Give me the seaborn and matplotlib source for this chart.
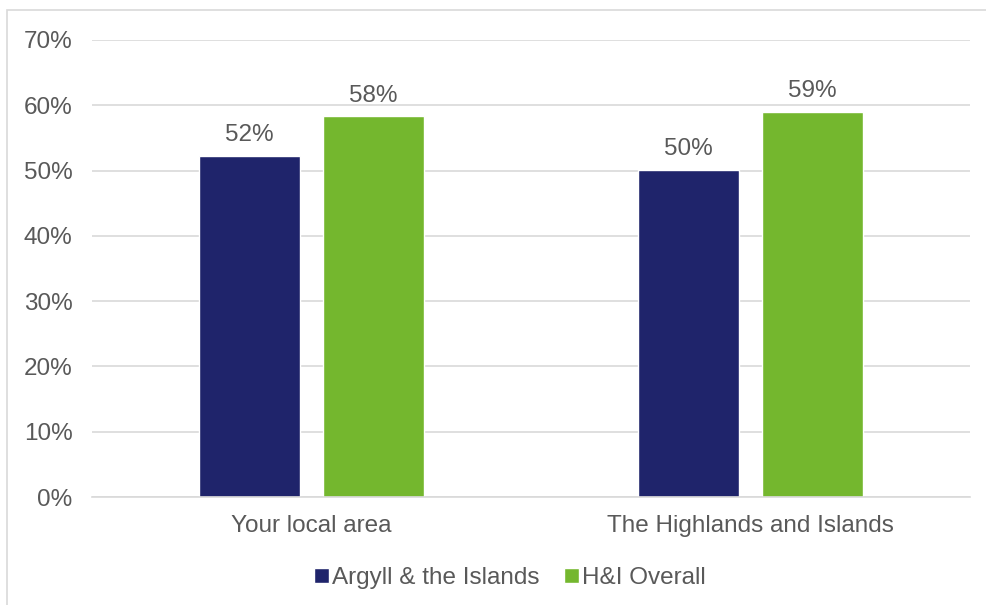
import matplotlib
matplotlib.use("Agg")
import matplotlib.pyplot as plt
import seaborn as sns
import pandas as pd
from matplotlib.patches import Rectangle

categories = ["Your local area", "The Highlands and Islands"]
series_names = ["Argyll & the Islands", "H&I Overall"]
argyll_values = [52.3, 50.1]
hi_values = [58.3, 59.0]
ytick_values = [0, 10, 20, 30, 40, 50, 60, 70]

colors = ["#1F246B", "#74B72E"]
text_color = "#595959"
grid_color = "#D9D9D9"
fs = 17.5

sns.set_theme(style="white")
plt.rcParams['font.family'] = ['Liberation Sans', 'DejaVu Sans']

df = pd.DataFrame({
    "category": categories * 2,
    "series": [series_names[0]] * 2 + [series_names[1]] * 2,
    "value": argyll_values + hi_values,
})

fig = plt.figure(figsize=(9.86, 6.05), dpi=100)
ax = fig.add_axes([92 / 986, 1 - 497 / 605, 878 / 986, 457 / 605])

sns.barplot(data=df, x="category", y="value", hue="series", order=categories,
            hue_order=series_names, palette=colors, width=0.565, gap=0.19,
            saturation=1, ax=ax, legend=True, errorbar=None)

ax.set_ylim(0, 70)
ax.set_xlim(-0.5, 1.5)
ax.set_yticks(ytick_values)
ax.set_yticklabels([f"{v}%" for v in ytick_values])
ax.set_xlabel("")
ax.set_ylabel("")
ax.yaxis.grid(True, color=grid_color, linewidth=1.2)
ax.set_axisbelow(True)
for s in ["top", "right", "left"]:
    ax.spines[s].set_visible(False)
ax.spines["bottom"].set_color(grid_color)
ax.spines["bottom"].set_linewidth(1.2)
ax.tick_params(axis="both", length=0, labelsize=fs, colors=text_color)
ax.tick_params(axis="x", pad=13)
ax.tick_params(axis="y", pad=14)

for container in ax.containers:
    ax.bar_label(container, labels=[f"{v:.0f}%" for v in container.datavalues],
                 padding=7, fontsize=fs, color=text_color)

leg = ax.legend(loc="center", bbox_to_anchor=(510 / 986, 1 - 578 / 605),
                bbox_transform=fig.transFigure, ncol=2, frameon=False,
                fontsize=fs, handlelength=0.6, handleheight=0.6,
                handletextpad=0.15, columnspacing=1.0)
for t in leg.get_texts():
    t.set_color(text_color)

fig.patches.append(Rectangle((7 / 986, -0.1), 1.2, 1 - 10 / 605 + 0.1,
                             transform=fig.transFigure, fill=False,
                             edgecolor=grid_color, linewidth=1.2))

fig.savefig("out.png", dpi=100)
